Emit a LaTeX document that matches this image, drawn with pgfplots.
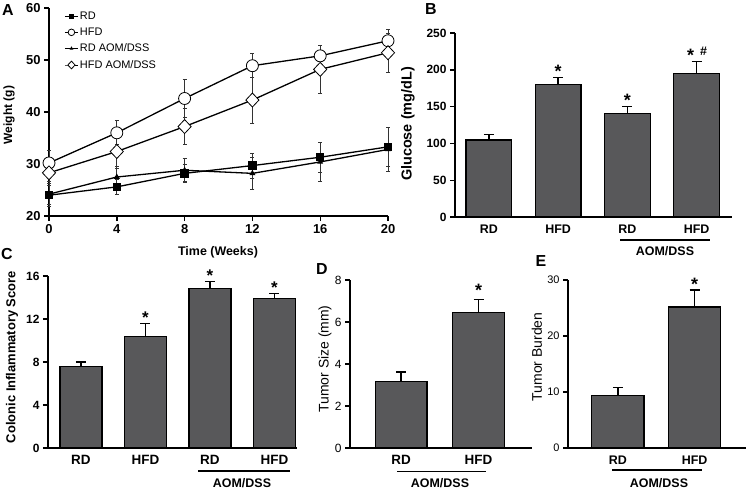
\documentclass[border=0pt]{standalone}
\usepackage{fontspec}
\setmainfont{Liberation Sans}
\usepackage{pgfplots}
\pgfplotsset{compat=1.18}
\definecolor{barfill}{HTML}{58585A}
\newcommand{\fs}[1]{\fontsize{#1}{#1}\selectfont}
\newcommand{\sig}[3][18]{\node[anchor=base, font=\fs{#1}\bfseries, inner sep=0pt] at (axis cs:#2,#3) {*};}

\pgfplotsset{
  prism/.style={scale only axis, anchor=south west,
    axis x line*=bottom, axis y line*=left,
    axis line style={line width=1.6bp,-},
    every tick/.style={black,line width=1.4bp},
    tick align=outside, major tick length=5bp,
    /pgf/number format/assume math mode=true, clip=false,
    yticklabel style={font=\fs{12}\bfseries},
    xticklabel style={font=\fs{12}\bfseries}},
  barax/.style={prism, ymin=0, x tick style={draw=none},
    xticklabel style={yshift=1bp}},
  barsty/.style={ybar, fill=barfill, draw=black, line width=1.3bp,
    /pgfplots/error bars/y dir=plus, /pgfplots/error bars/y explicit,
    /pgfplots/error bars/error bar style={line width=1.4bp, black},
    /pgfplots/error bars/error mark options={rotate=90, mark size=5bp, line width=1.4bp, black}},
  linesty/.style={black, line width=1.3bp,
    /pgfplots/error bars/y dir=both, /pgfplots/error bars/y explicit,
    /pgfplots/error bars/error bar style={line width=0.7bp, black!80},
    /pgfplots/error bars/error mark options={rotate=90, mark size=2bp, line width=0.7bp, black!80}},
}

\begin{document}
\begin{tikzpicture}
\path[use as bounding box] (0,0) rectangle (750bp,-492bp);

% ---------------- Panel A
\begin{axis}[prism, at={(49bp,-216bp)}, width=339bp, height=208bp,
  xmin=0, xmax=20, ymin=20, ymax=60,
  xtick={0,4,8,12,16,20}, ytick={20,30,40,50,60},
  yticklabel style={font=\fs{13}\bfseries},
  xticklabel style={font=\fs{13}\bfseries},
  legend style={at={(0.045,0.99)}, anchor=north west, draw=none, fill=none,
    font=\fs{11}, row sep=4bp, inner sep=0pt,
    nodes={inner sep=1.5bp}},
  legend cell align=left,
  legend image code/.code={\draw[mark repeat=2, mark phase=2, #1, line width=1bp]
     plot coordinates {(0bp,0bp) (6.5bp,0bp) (13bp,0bp)};},
  legend image post style={every mark/.append style={scale=0.55}},
]
\addplot[linesty, mark=square*, mark size=3.5bp, mark options={solid, fill=black, draw=black}]
 coordinates {(0,24.0) +- (0,1.8) (4,25.6) +- (0,1.5) (8,28.2) +- (0,1.8) (12,29.7) +- (0,2.4) (16,31.3) +- (0,2.9) (20,33.3) +- (0,3.8)};
\addlegendentry{RD}
\addplot[linesty, mark=*, mark size=6bp, mark options={solid, fill=white, draw=black, line width=0.8bp}]
 coordinates {(0,30.2) +- (0,2.4) (4,36.0) +- (0,2.3) (8,42.6) +- (0,3.7) (12,48.9) +- (0,2.3) (16,50.8) +- (0,2.0) (20,53.7) +- (0,2.1)};
\addlegendentry{HFD}
\addplot[linesty, mark=triangle*, mark size=2.2bp, mark options={solid, fill=black, draw=black}]
 coordinates {(0,24.2) +- (0,2.4) (4,27.5) +- (0,2.0) (8,28.8) +- (0,2.2) (12,28.2) +- (0,3.0) (16,30.4) +- (0,3.8) (20,32.8) +- (0,4.3)};
\addlegendentry{RD AOM/DSS}
\addplot[linesty, mark=diamond*, mark size=7bp, mark options={solid, fill=white, draw=black, line width=0.8bp, xscale=1.25}]
 coordinates {(0,28.3) +- (0,2.0) (4,32.4) +- (0,3.2) (8,37.2) +- (0,3.5) (12,42.3) +- (0,4.4) (16,48.2) +- (0,4.6) (20,51.4) +- (0,3.7)};
\addlegendentry{HFD AOM/DSS}
\end{axis}

% ---------------- Panel B
\begin{axis}[barax, at={(455bp,-217bp)}, width=277bp, height=184bp,
  xmin=-0.49, xmax=3.51, ymax=250, ytick={0,50,100,150,200,250},
  xtick={0,1,2,3}, xticklabels={RD,HFD,RD,HFD},
  yticklabel style={font=\fs{12}\bfseries},
  xticklabel style={font=\fs{12.5}\bfseries}]
\addplot[barsty, bar width=0.66] coordinates {(0,104.6) +- (0,7.2) (1,180.3) +- (0,9.0) (2,140.9) +- (0,9.0) (3,195.2) +- (0,15.8)};
\sig{1}{189.3}
\sig{2}{150}
\node[anchor=base, font=\fs{18}\bfseries, inner sep=0pt, xshift=-6bp] at (axis cs:3,211) {*};
\node[anchor=base, font=\fs{12.5}\bfseries, inner sep=0pt, xshift=7bp, yshift=6.5bp] at (axis cs:3,211) {\#};
\end{axis}

% ---------------- Panel C
\begin{axis}[barax, at={(48bp,-448bp)}, width=249bp, height=172bp,
  xmin=-0.51, xmax=3.35, ymax=16, ytick={0,4,8,12,16},
  xtick={0,1,2,3}, xticklabels={RD,HFD,RD,HFD},
  yticklabel style={font=\fs{12}\bfseries},
  xticklabel style={font=\fs{13.5}\bfseries}]
\addplot[barsty, bar width=0.65] coordinates {(0,7.56) +- (0,0.45) (1,10.35) +- (0,1.25) (2,14.85) +- (0,0.62) (3,13.9) +- (0,0.5)};
\sig[17]{1}{11.6}
\sig[17]{2}{15.47}
\sig[17]{3}{14.4}
\end{axis}

% ---------------- Panel D
\begin{axis}[barax, at={(350bp,-448bp)}, width=182bp, height=168bp,
  xmin=-0.66, xmax=1.69, ymax=8, ytick={0,2,4,6,8},
  xtick={0,1}, xticklabels={RD,HFD},
  yticklabel style={font=\fs{12}},
  xticklabel style={font=\fs{13.5}\bfseries}]
\addplot[barsty, bar width=0.67] coordinates {(0,3.16) +- (0,0.45) (1,6.44) +- (0,0.64)};
\node[anchor=base, font=\fs{18}\bfseries, inner sep=0pt, yshift=3bp] at (axis cs:1,7.08) {*};
\end{axis}

% ---------------- Panel E
\begin{axis}[barax, at={(568bp,-448bp)}, width=178bp, height=168bp,
  xmin=-0.65, xmax=1.67, ymax=30, ytick={0,10,20,30},
  xtick={0,1}, xticklabels={RD,HFD},
  yticklabel style={font=\fs{11}},
  xticklabel style={font=\fs{12.5}\bfseries}]
\addplot[barsty, bar width=0.68] coordinates {(0,9.35) +- (0,1.45) (1,25.2) +- (0,3.0)};
\sig{1}{28.2}
\end{axis}

% ---------------- annotations (pixel coordinates)
\begin{scope}[x=1bp, y=-1bp]
  % panel letters
  \node[font=\fs{16}\bfseries] at (8,10) {A};
  \node[font=\fs{16}\bfseries] at (431,9) {B};
  \node[font=\fs{16}\bfseries] at (7,254) {C};
  \node[font=\fs{16}\bfseries] at (322,269) {D};
  \node[font=\fs{16}\bfseries] at (541,261) {E};
  % axis titles
  \node[rotate=90, font=\fs{12}\bfseries] at (9,115) {Weight (g)};
  \node[font=\fs{12.5}\bfseries] at (218,252) {Time (Weeks)};
  \node[rotate=90, font=\fs{14.5}\bfseries] at (408,124) {Glucose (mg/dL)};
  \node[rotate=90, font=\fs{13}\bfseries] at (12,357) {Colonic Inflammatory Score};
  \node[rotate=90, font=\fs{14}] at (325,359) {Tumor Size (mm)};
  \node[rotate=90, font=\fs{14}] at (537,357) {Tumor Burden};
  % AOM/DSS brackets
  \draw[line width=1.3bp] (620,240) -- (710,240);
  \node[font=\fs{12.5}\bfseries] at (665,251) {AOM/DSS};
  \draw[line width=1.3bp] (198,471) -- (290,471);
  \node[font=\fs{12.5}\bfseries] at (242,483) {AOM/DSS};
  \draw[line width=1.3bp] (397,471.5) -- (486,471.5);
  \node[font=\fs{12.5}\bfseries] at (440,483) {AOM/DSS};
  \draw[line width=1.3bp] (612,470) -- (702,470);
  \node[font=\fs{12.5}\bfseries] at (659,483) {AOM/DSS};
\end{scope}
\end{tikzpicture}
\end{document}
